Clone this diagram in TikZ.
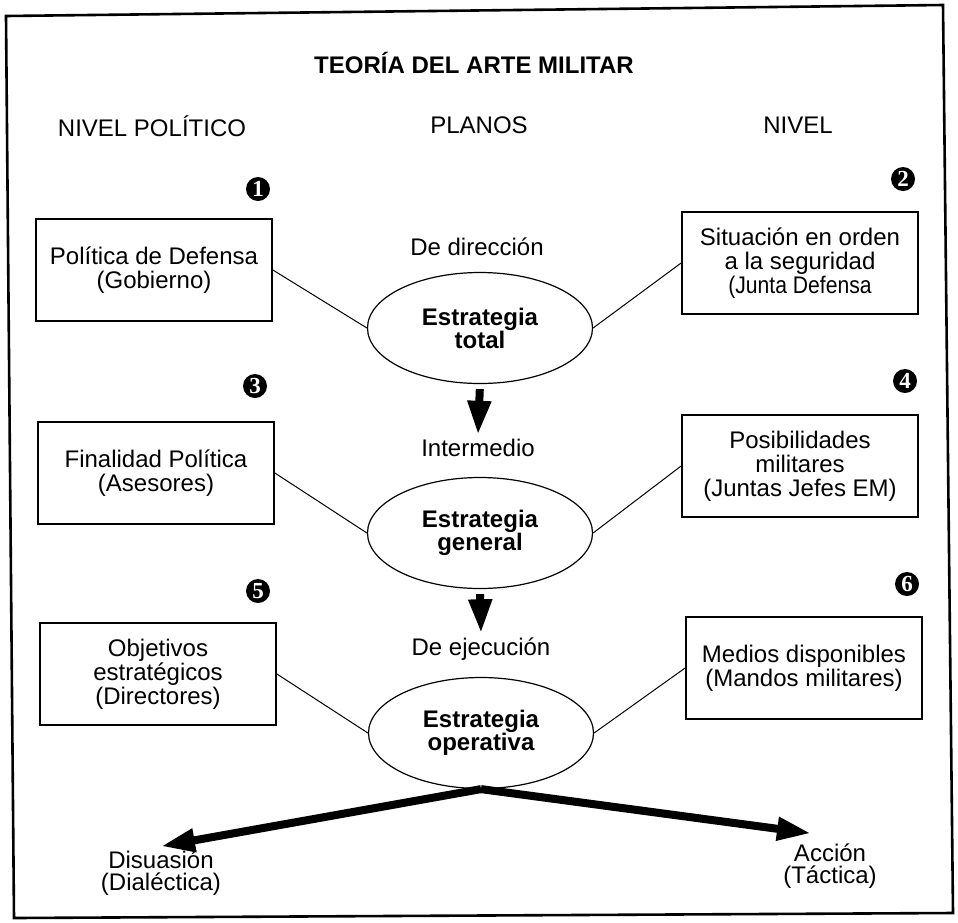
\documentclass[tikz,border=0pt]{standalone}
\usepackage{fontspec}
\setmainfont{Liberation Sans}
\newfontfamily\numfont{Liberation Serif}
\usetikzlibrary{positioning,shapes.geometric,arrows.meta}

\tikzset{
  every node/.style={font=\fontsize{12}{12}\selectfont},
  nivelbox/.style={draw, line width=0.9pt, minimum width=118pt, minimum height=51pt, align=center},
  plano/.style={ellipse, draw, line width=0.6pt, minimum width=112.5pt, minimum height=55.5pt, align=center,
    font=\bfseries\fontsize{12}{11.5}\selectfont},
  num/.style={circle, fill=black, text=white, inner sep=0pt, minimum size=12pt,
    font=\numfont\bfseries\fontsize{11.5}{11.5}\selectfont},
  enlace/.style={line width=0.5pt},
  flecha/.style={line width=4pt, -{Triangle[length=17pt,width=11pt]}},
  etiqueta/.style={inner sep=2pt, align=center, font=\fontsize{12}{11}\selectfont}
}

\begin{document}
\begin{tikzpicture}[x=0.5pt,y=-0.5pt]
  \useasboundingbox (0,0) rectangle (958,922);
  % Frame
  \draw[line width=1.3pt] (6,16) -- (943,5) -- (953,913) -- (14,918) -- cycle;

  % Title and column headers
  \node[font=\bfseries\fontsize{12}{12}\selectfont] (titulo) at (474,63) {TEORÍA DEL ARTE MILITAR};
  \node (npolitico) at (152,126) {NIVEL POLÍTICO};
  \node (planos) at (479,125) {PLANOS};
  \node (nivel) at (798,125) {NIVEL};

  % Left column
  \node[nivelbox] (defensa) at (154,270) {Política de Defensa\\(Gobierno)};
  \node[nivelbox] (finalidad) at (156,473) {Finalidad Política\\(Asesores)};
  \node[nivelbox] (objetivos) at (158,674) {Objetivos\\estratégicos\\(Directores)};

  % Right column
  \node[nivelbox] (situacion) at (800,263) {Situación en orden\\a la seguridad\\\scalebox{.88}[1]{(Junta Defensa}};
  \node[nivelbox] (posibles) at (800,466) {Posibilidades\\militares\\(Juntas Jefes EM)};
  \node[nivelbox] (medios) at (804,668) {Medios disponibles\\(Mandos militares)};

  % Numbers
  \node[num] (n1) at (258,189) {1};
  \node[num] (n2) at (903,179) {2};
  \node[num] (n3) at (255,386) {3};
  \node[num] (n4) at (905,381) {4};
  \node[num] (n5) at (258,591) {5};
  \node[num] (n6) at (907,584) {6};

  % Planes
  \node[etiqueta] (direccion) at (477,247) {De dirección};
  \node[plano] (total) at (480,328) {Estrategia\\total};
  \node[etiqueta] (intermedio) at (478,448) {Intermedio};
  \node[plano] (general) at (480,533) {Estrategia\\general};
  \node[etiqueta] (ejecucion) at (481,649) {De ejecución};
  \node[plano] (operativa) at (481,733) {Estrategia\\operativa};

  % Outcomes
  \node[etiqueta] (disuasion) at (161,873) {Disuasión\\(Dialéctica)};
  \node[etiqueta] (accion) at (830,866) {Acción\\(Táctica)};

  % Links
  \draw[enlace] (defensa.east) -- (total.west);
  \draw[enlace] (situacion.west) -- (total.east);
  \draw[enlace] (finalidad.east) -- (general.west);
  \draw[enlace] (posibles.west) -- (general.east);
  \draw[enlace] (objetivos.east) -- (operativa.west);
  \draw[enlace] (medios.west) -- (operativa.east);

  % Arrows
  \draw[flecha, shorten <=2.5pt] (total.south) -- (intermedio.north);
  \draw[flecha, shorten <=2.5pt] (general.south) -- (ejecucion.north);
  \draw[flecha] (operativa.south) -- (disuasion.north);
  \draw[flecha] (operativa.south) -- ([xshift=-9.5pt,yshift=3pt]accion.north);
\end{tikzpicture}
\end{document}
